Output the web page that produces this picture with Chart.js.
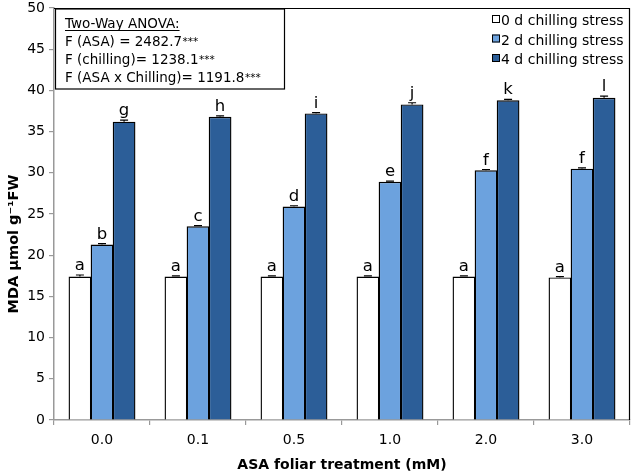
<!DOCTYPE html>
<html>
<head>
<meta charset="utf-8">
<script src="https://cdn.jsdelivr.net/npm/chart.js@4.4.1/dist/chart.umd.min.js"></script>
<style>
html,body{margin:0;padding:0;background:#fff;}
#wrap{width:638px;height:474px;position:relative;}
</style>
</head>
<body>
<div id="wrap"><canvas id="c" width="638" height="474"></canvas></div>
<script>
const categories = ['0.0', '0.1', '0.5', '1.0', '2.0', '3.0'];
const seriesNames = ['0 d chilling stress', '2 d chilling stress', '4 d chilling stress'];
const chill0 = [17.4, 17.4, 17.4, 17.4, 17.4, 17.3];
const chill2 = [21.3, 23.5, 25.9, 28.9, 30.3, 30.5];
const chill4 = [36.2, 36.8, 37.2, 38.3, 38.8, 39.1];
const err0 = [0.2, 0.1, 0.1, 0.1, 0.1, 0.1];
const err2 = [0.1, 0.1, 0.1, 0.1, 0.1, 0.1];
const err4 = [0.2, 0.1, 0.1, 0.2, 0.1, 0.2];
const letters0 = ['a', 'a', 'a', 'a', 'a', 'a'];
const letters2 = ['b', 'c', 'd', 'e', 'f', 'f'];
const letters4 = ['g', 'h', 'i', 'j', 'k', 'l'];
const anovaLines = ['Two-Way ANOVA:', 'F (ASA) = 2482.7', 'F (chilling)= 1238.1', 'F (ASA x Chilling)= 1191.8'];
const anovaStars = ['', '***', '***', '***'];
const yTicks = [0, 5, 10, 15, 20, 25, 30, 35, 40, 45, 50];
const colors = ['#ffffff', '#6ca2de', '#2c5e98'];
const FONT = 'DejaVu Sans';

const errs = [err0, err2, err4];
const letters = [letters0, letters2, letters4];

const decor = {
  id: 'decor',
  afterDatasetsDraw(chart) {
    const ctx = chart.ctx;
    const ca = chart.chartArea;
    const ys = chart.scales.y;
    ctx.save();
    chart.data.datasets.forEach((ds, i) => {
      const meta = chart.getDatasetMeta(i);
      meta.data.forEach((bar, j) => {
        const v = ds.data[j];
        const e = errs[i][j];
        const yt = ys.getPixelForValue(v + e);
        const yb = ys.getPixelForValue(v);
        ctx.strokeStyle = '#000';
        ctx.lineWidth = 1.2;
        ctx.beginPath();
        ctx.moveTo(bar.x, yb); ctx.lineTo(bar.x, yt);
        ctx.moveTo(bar.x - 4, yt); ctx.lineTo(bar.x + 4, yt);
        ctx.stroke();
        ctx.fillStyle = '#000';
        ctx.font = '16.5px ' + FONT;
        ctx.textAlign = 'center';
        ctx.textBaseline = 'alphabetic';
        ctx.fillText(letters[i][j], bar.x, yt - 5);
      });
    });
    ctx.strokeStyle = '#000';
    ctx.lineWidth = 1.2;
    ctx.beginPath();
    ctx.moveTo(ca.left, ca.top + 0.5);
    ctx.lineTo(ca.right - 0.5, ca.top + 0.5);
    ctx.lineTo(ca.right - 0.5, ca.bottom);
    ctx.stroke();
    // ANOVA box
    const bx = ca.left + 1.5, by = ca.top + 1;
    ctx.fillStyle = '#fff';
    ctx.fillRect(bx, by, 229, 80);
    ctx.strokeStyle = '#000';
    ctx.lineWidth = 1.2;
    ctx.strokeRect(bx, by, 229, 80);
    ctx.fillStyle = '#000';
    ctx.textAlign = 'left';
    ctx.textBaseline = 'alphabetic';
    const bases = [19, 37, 55, 73];
    anovaLines.forEach((t, k) => {
      const yb = by + bases[k];
      ctx.font = '13.5px ' + FONT;
      ctx.fillText(t, 65, yb);
      const w = ctx.measureText(t).width;
      if (k === 0) {
        ctx.beginPath();
        ctx.lineWidth = 1;
        ctx.moveTo(65, yb + 2.5);
        ctx.lineTo(65 + w, yb + 2.5);
        ctx.stroke();
      }
      if (anovaStars[k]) {
        ctx.font = '10.5px ' + FONT;
        ctx.fillText(anovaStars[k], 65 + w + 0.5, yb - 1.5);
      }
    });
    // legend
    ctx.font = '14px ' + FONT;
    chart.data.datasets.forEach((ds, i) => {
      const yb = ca.top + 17 + i * 19.5;
      ctx.fillStyle = ds.backgroundColor;
      ctx.fillRect(492, yb - 10, 8, 8);
      ctx.strokeStyle = '#000';
      ctx.lineWidth = 1;
      ctx.strokeRect(492.5, yb - 9.5, 7, 7);
      ctx.fillStyle = '#000';
      ctx.fillText(ds.label, 501, yb);
    });
    // y title
    ctx.save();
    ctx.translate(14, 244);
    ctx.rotate(-Math.PI / 2);
    ctx.textAlign = 'center';
    ctx.textBaseline = 'middle';
    ctx.font = 'bold 14.5px ' + FONT;
    ctx.fillText('MDA µmol g\u207B\u00B9FW', 0, 0);
    ctx.restore();
    ctx.restore();
  }
};

new Chart(document.getElementById('c'), {
  type: 'bar',
  data: {
    labels: categories,
    datasets: [chill0, chill2, chill4].map((d, i) => ({
      label: seriesNames[i],
      data: d,
      backgroundColor: colors[i],
      borderColor: '#000',
      borderWidth: 1.4,
      borderSkipped: 'bottom',
      categoryPercentage: 0.69,
      barPercentage: 1.03
    }))
  },
  options: {
    responsive: false,
    animation: false,
    layout: { padding: { top: 0, right: 8, left: 0, bottom: 0 } },
    plugins: { legend: { display: false }, tooltip: { enabled: false } },
    scales: {
      x: {
        afterFit(s) { s.height = 54; },
        grid: { offset: true, drawOnChartArea: false, drawTicks: true, tickLength: 5, color: '#999', lineWidth: 1.2 },
        border: { color: '#999', width: 1.5 },
        ticks: { color: '#000', font: { family: FONT, size: 14 }, padding: 7 },
        title: { display: true, text: 'ASA foliar treatment (mM)', color: '#000', font: { family: FONT, size: 14, weight: 'bold' }, padding: { top: 8, bottom: 0 } }
      },
      y: {
        min: 0, max: 50,
        afterFit(s) { s.width = 54; s.paddingTop = 8; s.paddingBottom = 0; },
        afterBuildTicks(s) { s.ticks = yTicks.map(v => ({ value: v })); },
        grid: { drawOnChartArea: false, drawTicks: true, tickLength: 5, color: '#999', lineWidth: 1.2 },
        border: { color: '#999', width: 1.5 },
        ticks: { color: '#000', font: { family: FONT, size: 14, lineHeight: 0.9 }, padding: 4 }
      }
    }
  },
  plugins: [decor]
});
</script>
</body>
</html>
